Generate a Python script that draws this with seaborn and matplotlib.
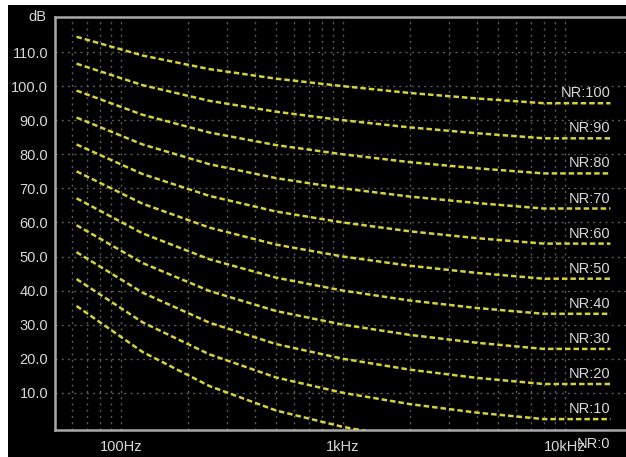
import matplotlib
matplotlib.use("Agg")
import matplotlib.pyplot as plt
import matplotlib.ticker as mticker
from matplotlib.patches import Rectangle
import seaborn as sns
import pandas as pd

# ---- data ----
freqs = [63, 125, 250, 500, 1000, 2000, 4000, 8000, 16000]
nr_values = [0, 10, 20, 30, 40, 50, 60, 70, 80, 90, 100]
nr0 = [35.5, 22.0, 12.0, 4.8, 0.0, -3.5, -6.1, -8.0, -8.0]
nr10 = [43.4, 30.7, 21.3, 14.5, 10.0, 6.7, 4.2, 2.3, 2.3]
nr20 = [51.3, 39.4, 30.6, 24.3, 20.0, 16.8, 14.4, 12.6, 12.6]
nr30 = [59.2, 48.1, 39.9, 34.0, 30.0, 27.0, 24.7, 22.9, 22.9]
nr40 = [67.1, 56.8, 49.2, 43.8, 40.0, 37.1, 34.9, 33.2, 33.2]
nr50 = [75.0, 65.5, 58.5, 53.5, 50.0, 47.3, 45.2, 43.5, 43.5]
nr60 = [82.9, 74.2, 67.8, 63.2, 60.0, 57.4, 55.4, 53.8, 53.8]
nr70 = [90.8, 82.9, 77.1, 73.0, 70.0, 67.6, 65.7, 64.1, 64.1]
nr80 = [98.7, 91.6, 86.4, 82.7, 80.0, 77.7, 75.9, 74.4, 74.4]
nr90 = [106.6, 100.3, 95.7, 92.5, 90.0, 87.9, 86.2, 84.7, 84.7]
nr100 = [114.5, 109.0, 105.0, 102.2, 100.0, 98.0, 96.4, 95.0, 95.0]
curves = [nr0, nr10, nr20, nr30, nr40, nr50, nr60, nr70, nr80, nr90, nr100]
nr_labels = [f"NR:{v}" for v in nr_values]
y_ticks = [10, 20, 30, 40, 50, 60, 70, 80, 90, 100, 110]
x_ticks = [100, 1000, 10000]
x_ticklabels = ["100Hz", "1kHz", "10kHz"]

rows = []
for nr, vals in zip(nr_values, curves):
    for f, v in zip(freqs, vals):
        rows.append({"freq": f, "level": v, "nr": nr})
df = pd.DataFrame(rows)

sns.set_style("dark")
plt.rcParams["font.family"] = ["Liberation Sans", "DejaVu Sans"]

text_col = "#d8d8d8"
line_col = "#d4d43a"
grid_col = "#5a5a5a"
spine_col = "#a8a8a8"

fig = plt.figure(figsize=(6.26, 4.57), dpi=100, facecolor="black")
# white strips on top and left edges
fig.patches.append(Rectangle((0, 0), 8 / 626, 1, transform=fig.transFigure,
                             facecolor="white", edgecolor="none", zorder=-10))
fig.patches.append(Rectangle((0, 452 / 457), 1, 5 / 457, transform=fig.transFigure,
                             facecolor="white", edgecolor="none", zorder=-10))
ax = fig.add_axes([55 / 626, 27 / 457, (626 - 55) / 626, (430 - 17) / 457])
ax.set_facecolor("black")

for nr in nr_values:
    sub = df[df["nr"] == nr]
    sns.lineplot(data=sub, x="freq", y="level", ax=ax, color=line_col,
                 linewidth=1.8, linestyle=(0, (2.2, 1.2)), zorder=3)

ax.set_xscale("log")
ax.set_xlim(50.4, 18800)
ax.set_ylim(-0.9, 120.3)

ax.xaxis.set_major_locator(mticker.FixedLocator(x_ticks))
ax.xaxis.set_major_formatter(mticker.FixedFormatter(x_ticklabels))
ax.xaxis.set_minor_locator(mticker.LogLocator(base=10, subs=range(2, 10), numticks=20))
ax.xaxis.set_minor_formatter(mticker.NullFormatter())
ax.set_yticks(y_ticks)
ax.set_yticklabels([f"{v:.1f}" for v in y_ticks])

ax.tick_params(axis="both", which="both", length=0, colors=text_col, labelsize=10.5)
ax.tick_params(axis="x", pad=7)
ax.tick_params(axis="y", pad=5)

ax.grid(True, which="both", axis="x", color=grid_col, linestyle=(0, (1.5, 3)), linewidth=1.0)
ax.grid(True, which="major", axis="y", color=grid_col, linestyle=(0, (1.5, 3)), linewidth=1.0)

for side in ["top", "bottom", "left"]:
    ax.spines[side].set_visible(True)
    ax.spines[side].set_color(spine_col)
    ax.spines[side].set_linewidth(1.8)
ax.spines["right"].set_visible(False)

ax.set_xlabel("")
ax.set_ylabel("")

for lab, vals in zip(nr_labels, curves):
    ax.annotate(lab, xy=(freqs[-1], vals[-1]), xytext=(0, 10), textcoords="offset pixels",
                ha="right", va="center", color=text_col, fontsize=10.5,
                annotation_clip=False, zorder=5)

ax.text(-0.015, 1.0, "dB", transform=ax.transAxes, ha="right", va="center",
        color=text_col, fontsize=10.5)

fig.savefig("out.png", dpi=100, facecolor=fig.get_facecolor())
